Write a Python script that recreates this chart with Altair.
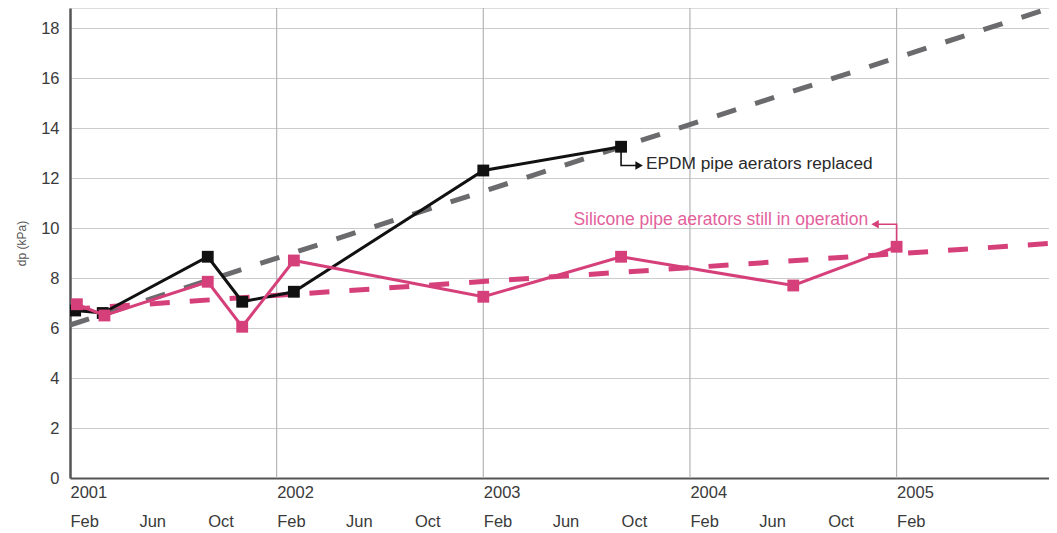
import altair as alt
import pandas as pd

FONT = "Liberation Sans, Arial, sans-serif"

# x = months since Feb 2001
epdm_month = [0.3, 1.9, 8.0, 10.0, 13.0, 24.0, 32.0]
epdm_dp = [6.7, 6.6, 8.85, 7.05, 7.45, 12.3, 13.25]
sil_month = [0.4, 2.0, 8.0, 10.0, 13.0, 24.0, 32.0, 42.0, 48.0]
sil_dp = [6.95, 6.5, 7.85, 6.05, 8.7, 7.25, 8.85, 7.7, 9.25]
trend_month = [0.0, 57.3]
epdm_trend = [6.12, 18.88]
sil_trend = [6.75, 9.4]
year_lines = [12, 24, 36, 48]
years = ["2001", "2002", "2003", "2004", "2005"]
month_names = ["Feb", "Jun", "Oct"]
x_ticks = list(range(0, 49, 4))
y_ticks = list(range(0, 19, 2))

BLACK = "#111111"
PINK = "#d6407a"
GREY = "#6b6b6e"

X_DOMAIN = [0, 56.85]
Y_DOMAIN = [0, 18.8]

label_expr = (
    "datum.value % 12 == 0 ? [" + repr(years) + "[floor(datum.value / 12)], '" + month_names[0] + "'] : "
    "[' ', datum.value % 12 == 4 ? '" + month_names[1] + "' : '" + month_names[2] + "']"
)

xscale = alt.Scale(domain=X_DOMAIN, nice=False, zero=False)
yscale = alt.Scale(domain=Y_DOMAIN, nice=False)

x_axis = alt.Axis(
    values=x_ticks, labelExpr=label_expr, grid=False, ticks=False,
    labelAlign="left", labelBaseline="top", labelPadding=6, labelLineHeight=29,
    labelFlush=False, labelOverlap=False, labelFont=FONT, labelFontSize=16.5,
    labelColor="#3a3a3a", domainColor="#555555", domainWidth=2, title=None,
)
y_axis = alt.Axis(
    values=y_ticks, grid=True, gridColor="#cccccc", gridWidth=1, ticks=False,
    labelPadding=11, labelFont=FONT, labelFontSize=16.5, labelColor="#3a3a3a",
    domainColor="#555555", domainWidth=2.5, title="dp (kPa)", titleFont=FONT,
    titleFontSize=12, titleFontWeight="normal", titleColor="#555555", titlePadding=12,
)

trend_df = pd.DataFrame({"m": trend_month, "epdm": epdm_trend, "sil": sil_trend})
epdm_df = pd.DataFrame({"m": epdm_month, "dp": epdm_dp})
sil_df = pd.DataFrame({"m": sil_month, "dp": sil_dp})
year_df = pd.DataFrame({"m": year_lines, "lo": [0] * 4, "hi": [Y_DOMAIN[1]] * 4})

grid_v = alt.Chart(year_df).mark_rule(color="#b5b5b5", strokeWidth=1.2).encode(
    x=alt.X("m:Q", scale=xscale, axis=x_axis),
    y=alt.Y("lo:Q", scale=yscale, axis=y_axis),
    y2="hi:Q",
)

grey_trend = alt.Chart(trend_df).mark_line(
    color=GREY, strokeWidth=5, strokeDash=[20, 20], strokeCap="butt", clip=True
).encode(x=alt.X("m:Q", scale=xscale), y=alt.Y("epdm:Q", scale=yscale))

pink_trend = alt.Chart(trend_df).mark_line(
    color=PINK, strokeWidth=5, strokeDash=[20, 20], strokeCap="butt", clip=True
).encode(x=alt.X("m:Q", scale=xscale), y=alt.Y("sil:Q", scale=yscale))

epdm_line = alt.Chart(epdm_df).mark_line(color=BLACK, strokeWidth=3, clip=True).encode(
    x=alt.X("m:Q", scale=xscale), y=alt.Y("dp:Q", scale=yscale)
)
epdm_pts = alt.Chart(epdm_df).mark_point(
    shape="square", filled=True, color=BLACK, size=140, opacity=1, clip=True
).encode(x=alt.X("m:Q", scale=xscale), y=alt.Y("dp:Q", scale=yscale))

sil_line = alt.Chart(sil_df).mark_line(color=PINK, strokeWidth=3, clip=True).encode(
    x=alt.X("m:Q", scale=xscale), y=alt.Y("dp:Q", scale=yscale)
)
sil_pts = alt.Chart(sil_df).mark_point(
    shape="square", filled=True, color=PINK, size=140, opacity=1, clip=True
).encode(x=alt.X("m:Q", scale=xscale), y=alt.Y("dp:Q", scale=yscale))

# annotation connectors
epdm_conn = pd.DataFrame({"m": [32.0, 32.0, 32.9], "v": [13.25, 12.5, 12.5], "o": [0, 1, 2]})
sil_conn = pd.DataFrame({"m": [48.0, 48.0, 46.9], "v": [9.25, 10.15, 10.15], "o": [0, 1, 2]})

epdm_c = alt.Chart(epdm_conn).mark_line(color=BLACK, strokeWidth=1.6).encode(
    x=alt.X("m:Q", scale=xscale), y=alt.Y("v:Q", scale=yscale), order="o:Q"
)
sil_c = alt.Chart(sil_conn).mark_line(color=PINK, strokeWidth=1.6).encode(
    x=alt.X("m:Q", scale=xscale), y=alt.Y("v:Q", scale=yscale), order="o:Q"
)
epdm_head = alt.Chart(pd.DataFrame({"m": [33.05], "v": [12.5]})).mark_point(
    shape="triangle-right", filled=True, color=BLACK, size=75, opacity=1
).encode(x=alt.X("m:Q", scale=xscale), y=alt.Y("v:Q", scale=yscale))
sil_head = alt.Chart(pd.DataFrame({"m": [46.75], "v": [10.15]})).mark_point(
    shape="triangle-left", filled=True, color=PINK, size=75, opacity=1
).encode(x=alt.X("m:Q", scale=xscale), y=alt.Y("v:Q", scale=yscale))

epdm_txt = alt.Chart(pd.DataFrame({"m": [33.45], "v": [12.58], "t": ["EPDM pipe aerators replaced"]})).mark_text(
    align="left", baseline="middle", font=FONT, fontSize=17.3, color="#2a2a2a"
).encode(x=alt.X("m:Q", scale=xscale), y=alt.Y("v:Q", scale=yscale), text="t:N")
sil_txt = alt.Chart(pd.DataFrame({"m": [46.35], "v": [10.32], "t": ["Silicone pipe aerators still in operation"]})).mark_text(
    align="right", baseline="middle", font=FONT, fontSize=17.5, color="#e2619c"
).encode(x=alt.X("m:Q", scale=xscale), y=alt.Y("v:Q", scale=yscale), text="t:N")

chart = alt.layer(
    grid_v, grey_trend, pink_trend, epdm_line, epdm_pts, sil_line, sil_pts,
    epdm_c, sil_c, epdm_head, sil_head, epdm_txt, sil_txt,
).properties(
    width=979, height=470,
    autosize=alt.AutoSizeParams(type="none"),
    padding={"left": 62, "top": 0, "right": 0, "bottom": 55},
).configure_view(strokeWidth=0).configure(background="white")

chart.save("out.html", embed_options={"renderer": "svg", "actions": False})
